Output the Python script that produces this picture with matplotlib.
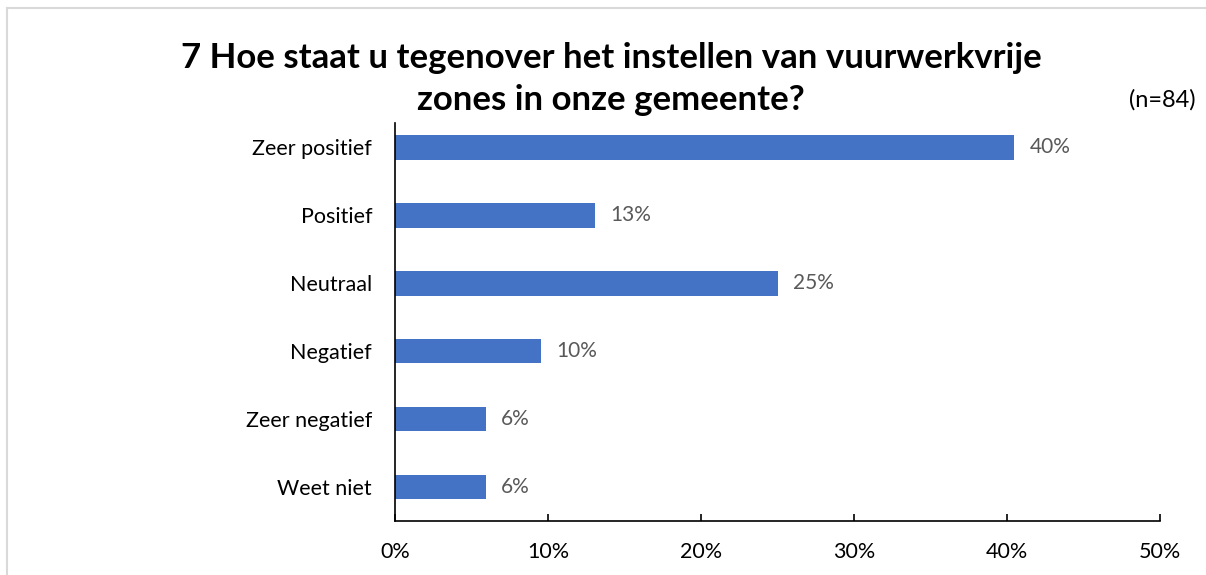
import matplotlib.pyplot as plt
from matplotlib.lines import Line2D

categories = ["Zeer positief", "Positief", "Neutraal", "Negatief", "Zeer negatief", "Weet niet"]
counts = [34, 11, 21, 8, 5, 5]
n_total = 84
percentages = [c / n_total * 100 for c in counts]
xticks = [0, 10, 20, 30, 40, 50]

title = "7 Hoe staat u tegenover het instellen van vuurwerkvrije\nzones in onze gemeente?"

plt.rcParams["font.family"] = ["Lato", "DejaVu Sans"]

W, H = 1206, 575
fig = plt.figure(figsize=(W / 100, H / 100), dpi=100)
ax = fig.add_axes([395 / W, 1 - 521 / H, (1160 - 395) / W, (521 - 113.5) / H])

ypos = list(range(len(categories)))
ax.barh(ypos, percentages, height=0.36, color="#4472C4")
for y, p in zip(ypos, percentages):
    ax.text(p + 1.0, y, f"{p:.0f}%", va="center", ha="left", fontsize=15, color="#595959")

ax.set_ylim(5.5, -0.5)
ax.set_xlim(0, 50)
ax.set_yticks(ypos)
ax.set_yticklabels(categories, fontsize=15.5)
ax.set_xticks(xticks)
ax.set_xticklabels([f"{t}%" for t in xticks], fontsize=15.5)
ax.tick_params(axis="y", length=0, pad=16.5)
ax.tick_params(axis="x", direction="in", length=5, width=1.2, pad=15)
for s in ["top", "right"]:
    ax.spines[s].set_visible(False)
ax.spines["left"].set_linewidth(1.2)
ax.spines["bottom"].set_linewidth(1.2)
ax.spines["left"].set_bounds(-0.36, 5.5)

fig.text(611 / W, 1 - 79 / H, title, ha="center", va="center", fontsize=25,
         fontweight="bold", linespacing=1.35)
fig.text(1196 / W, 1 - 100 / H, f"(n={n_total})", ha="right", va="center", fontsize=17)

# light chart border (left and top)
fig.add_artist(Line2D([7 / W, 7 / W], [0, 1 - 8 / H], color="#D9D9D9", lw=1.5))
fig.add_artist(Line2D([7 / W, 1], [1 - 8 / H, 1 - 8 / H], color="#D9D9D9", lw=1.5))

fig.savefig("out.png", dpi=100)
